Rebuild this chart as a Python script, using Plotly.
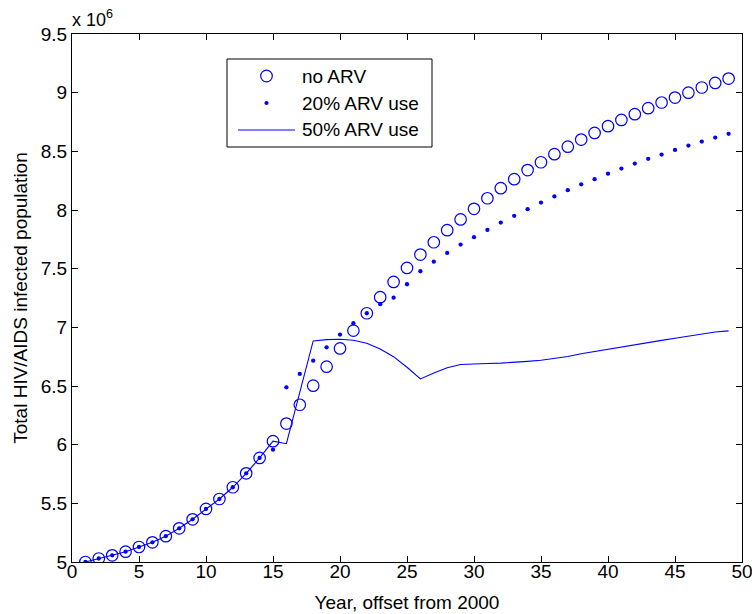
import plotly.graph_objects as go

# Years after 2000
years = list(range(1, 50))

# Total HIV/AIDS infected population, millions
no_arv = [5.000, 5.030, 5.057, 5.088, 5.128, 5.168, 5.220, 5.287, 5.364, 5.452,
          5.537, 5.637, 5.756, 5.887, 6.030, 6.180, 6.340, 6.503, 6.665, 6.820,
          6.972, 7.120, 7.257, 7.387, 7.506, 7.620, 7.725, 7.828, 7.920, 8.010,
          8.100, 8.186, 8.263, 8.340, 8.407, 8.476, 8.540, 8.600, 8.657, 8.714,
          8.768, 8.817, 8.868, 8.916, 8.958, 9.000, 9.044, 9.083, 9.120]

arv_20 = [5.000, 5.030, 5.057, 5.088, 5.128, 5.168, 5.220, 5.287, 5.364, 5.452,
          5.537, 5.637, 5.756, 5.887, 5.957, 6.489, 6.603, 6.716, 6.830, 6.938,
          7.035, 7.120, 7.197, 7.253, 7.367, 7.478, 7.560, 7.634, 7.705, 7.768,
          7.830, 7.893, 7.950, 8.007, 8.063, 8.116, 8.169, 8.219, 8.263, 8.310,
          8.353, 8.396, 8.436, 8.472, 8.512, 8.549, 8.583, 8.617, 8.649]

arv_50 = [5.000, 5.030, 5.057, 5.088, 5.128, 5.168, 5.220, 5.287, 5.364, 5.452,
          5.537, 5.637, 5.756, 5.887, 6.030, 6.008, 6.446, 6.884, 6.895, 6.898,
          6.890, 6.864, 6.816, 6.750, 6.660, 6.560, 6.610, 6.655, 6.683, 6.690,
          6.692, 6.695, 6.700, 6.710, 6.720, 6.735, 6.752, 6.775, 6.795, 6.813,
          6.832, 6.851, 6.870, 6.889, 6.907, 6.926, 6.944, 6.960, 6.970]

series_names = ["no ARV", "20% ARV use", "50% ARV use"]

x_ticks = list(range(0, 55, 5))
y_ticks = [5, 5.5, 6, 6.5, 7, 7.5, 8, 8.5, 9, 9.5]

FONT = "Liberation Sans, Arial, Helvetica, sans-serif"
BLUE = "#0000ff"
FS = 19

W, H = 752, 614
ML, MR, MT, MB = 72, 10, 34, 52
PW, PH = W - ML - MR, H - MT - MB


def px(x):
    """Pixel column -> paper x."""
    return (x - ML) / PW


def py(y):
    """Pixel row -> paper y."""
    return (H - MB - y) / PH


fig = go.Figure()
fig.add_trace(go.Scatter(
    x=years, y=no_arv, mode="markers", name=series_names[0],
    marker=dict(symbol="circle-open", size=11.5, color=BLUE, line=dict(width=1.2, color=BLUE)),
))
fig.add_trace(go.Scatter(
    x=years, y=arv_20, mode="markers", name=series_names[1],
    marker=dict(symbol="circle", size=4.3, color=BLUE),
))
fig.add_trace(go.Scatter(
    x=years, y=arv_50, mode="lines", name=series_names[2],
    line=dict(color=BLUE, width=1.1),
))

axis_common = dict(
    showline=True, linecolor="black", linewidth=1, mirror="ticks",
    ticks="inside", ticklen=6, tickcolor="black", tickwidth=1,
    showgrid=False, zeroline=False, automargin=False,
    tickfont=dict(family=FONT, size=FS, color="black"),
)

fig.update_xaxes(
    range=[0, 50], tickvals=x_ticks, **axis_common,
    ticklabeloverflow="allow", ticklabelstandoff=-8,
    title=dict(text="Year, offset from 2000", font=dict(family=FONT, size=FS, color="black"), standoff=14),
)
fig.update_yaxes(
    range=[5, 9.5], tickvals=y_ticks, **axis_common,
    title=dict(text="Total HIV/AIDS infected population", font=dict(family=FONT, size=FS, color="black"), standoff=8),
)

# Common scale factor printed above the y axis
fig.add_annotation(
    xref="paper", yref="paper", x=0, y=1, xanchor="left", yanchor="bottom",
    text="x 10<sup>6</sup>", showarrow=False, xshift=-2, yshift=2,
    font=dict(family=FONT, size=18, color="black"),
)

# Boxed legend in the upper-left part of the axes
box = dict(x0=227, x1=432, y0=59, y1=147)
rows = [76, 103, 130]
sym_x = 266.5
text_x = 300

fig.add_shape(type="rect", xref="paper", yref="paper",
              x0=px(box["x0"]), x1=px(box["x1"]), y0=py(box["y1"]), y1=py(box["y0"]),
              line=dict(color="black", width=1), fillcolor="white", layer="above")
# open circle sample
r = 5.8
fig.add_shape(type="circle", xref="paper", yref="paper",
              x0=px(sym_x - r), x1=px(sym_x + r), y0=py(rows[0] + r), y1=py(rows[0] - r),
              line=dict(color=BLUE, width=1.2), layer="above")
# dot sample
r = 2.1
fig.add_shape(type="circle", xref="paper", yref="paper",
              x0=px(sym_x - r), x1=px(sym_x + r), y0=py(rows[1] + r), y1=py(rows[1] - r),
              line=dict(color=BLUE, width=0), fillcolor=BLUE, layer="above")
# line sample
fig.add_shape(type="line", xref="paper", yref="paper",
              x0=px(238), x1=px(295), y0=py(rows[2]), y1=py(rows[2]),
              line=dict(color=BLUE, width=1.1), layer="above")
for name, row in zip(series_names, rows):
    fig.add_annotation(
        xref="paper", yref="paper", x=px(text_x), y=py(row),
        xanchor="left", yanchor="middle", text=name, showarrow=False,
        font=dict(family=FONT, size=FS, color="black"),
    )

fig.update_layout(
    width=W, height=H,
    margin=dict(l=ML, r=MR, t=MT, b=MB),
    paper_bgcolor="white", plot_bgcolor="white",
    font=dict(family=FONT, size=FS, color="black"),
    showlegend=False,
)

fig.write_html("out.html")
